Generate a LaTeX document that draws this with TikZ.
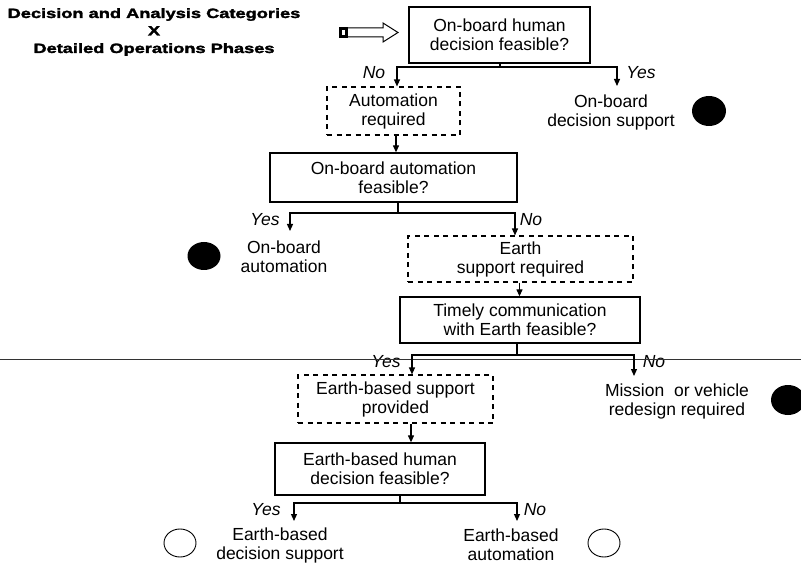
\documentclass[tikz,border=0pt]{standalone}
\usepackage{fontspec}
\setmainfont{Liberation Sans}
\newfontfamily\titlefont[FakeStretch=1.35,FakeBold=2.2]{Liberation Sans Bold}
\usetikzlibrary{arrows.meta}
\begin{document}
\begin{tikzpicture}[x=1pt,y=-1pt,
  txt/.style={font=\fontsize{17.5}{19}\selectfont, align=center, inner sep=0pt},
  lab/.style={font=\fontsize{17.5}{19}\selectfont\itshape, inner sep=0pt},
  qbox/.style={txt, draw, line width=1.3pt},
  dbox/.style={txt, draw, line width=1.1pt, dash pattern=on 5pt off 4.5pt},
  conn/.style={line width=1.2pt},
  arr/.style={conn, -{Triangle[length=7pt,width=6pt]}},
  dot/.style={fill=black},
  ring/.style={draw, line width=0.9pt}
]
\useasboundingbox (0,0) rectangle (801,564);
\fill[white] (0,0) rectangle (801,564);

% title
\node[font=\titlefont\fontsize{13.5}{17.5}\selectfont, align=center, inner sep=0pt] (title) at (154,32)
  {Decision and Analysis Categories\\X\\Detailed Operations Phases};

% hollow arrow
\draw[line width=1pt, fill=white] (347,28) -- (383,28) -- (383,23) -- (398,32.5) -- (383,42) -- (383,37) -- (347,37) -- cycle;
\draw[line width=3pt, fill=white] (340,28.5) rectangle (346.5,36.5);

% boxes
\node[qbox, minimum width=181pt, minimum height=56pt] (q1) at (499.5,35) {On-board human\\decision feasible?};
\node[dbox, minimum width=133pt, minimum height=48pt] (qa) at (393.5,111) {Automation\\required};
\node[qbox, minimum width=247pt, minimum height=49pt] (q2) at (393.5,177.5) {On-board automation\\feasible?};
\node[dbox, minimum width=225pt, minimum height=46pt] (qb) at (520.5,259) {Earth\\support required};
\node[qbox, minimum width=240pt, minimum height=46pt] (q3) at (520,320) {Timely communication\\with Earth feasible?};
\node[dbox, minimum width=195pt, minimum height=48pt] (qc) at (395.5,399) {Earth-based support\\provided};
\node[qbox, minimum width=210pt, minimum height=52pt] (q4) at (380,469) {Earth-based human\\decision feasible?};

% outcome texts
\node[txt] (t1) at (611,112) {On-board\\decision support};
\node[txt] (t2) at (284,257) {On-board\\automation};
\node[txt] (t3) at (677,401) {Mission\ \ or vehicle\\redesign required};
\node[txt] (t4) at (280,545) {Earth-based\\decision support};
\node[txt] (t5) at (511,545) {Earth-based\\automation};

% markers
\fill[dot] (709,111) ellipse [x radius=17pt, y radius=15pt];
\fill[dot] (204,256) ellipse [x radius=16.5pt, y radius=14pt];
\fill[dot] (788,400) ellipse [x radius=17pt, y radius=15pt];
\draw[ring] (180,543) ellipse [x radius=16pt, y radius=14pt];
\draw[ring] (604,543) ellipse [x radius=16pt, y radius=14pt];

% labels
\node[lab] (l1) at (374,73) {No};
\node[lab] (l2) at (641,73) {Yes};
\node[lab] (l3) at (265,220) {Yes};
\node[lab] (l4) at (531,220) {No};
\node[lab] (l5) at (386,362) {Yes};
\node[lab] (l6) at (654,362) {No};
\node[lab] (l7) at (266,510) {Yes};
\node[lab] (l8) at (535,510) {No};

% separator line
\coordinate (sl) at (0,359);
\coordinate (sr) at (801,359);
\draw[line width=0.9pt, black!80] (sl) -- (sr);

% connectors
\coordinate (j1) at (500,67);
\coordinate (e1) at (617,86);
\draw[conn] (q1.south -| j1) -- (j1);
\draw[arr] (j1) -| (qa.north -| 397,0);
\draw[arr] (j1) -| (e1);

\draw[arr] ([xshift=2.5pt]qa.south) -- ([xshift=2.5pt]qa.south |- q2.north);

\coordinate (j2) at (398,213);
\coordinate (e2) at (290,231);
\draw[conn] (q2.south -| j2) -- (j2);
\draw[arr] (j2) -| (e2);
\draw[arr] (j2) -| (qb.north -| 515,0);

\draw[arr] ([xshift=-1pt]qb.south) -- ([xshift=-1pt]qb.south |- q3.north);

\coordinate (j3) at (517,355);
\coordinate (e3) at (634,376);
\draw[conn] (q3.south -| j3) -- (j3);
\draw[arr] (j3) -| (qc.north -| 412,0);
\draw[arr] (j3) -| (e3);

\draw[arr] ([xshift=15.5pt]qc.south) -- ([xshift=15.5pt]qc.south |- q4.north);

\coordinate (j4) at (400,503);
\coordinate (e4) at (294,521);
\coordinate (e5) at (517,521);
\draw[conn] (q4.south -| j4) -- (j4);
\draw[arr] (j4) -| (e4);
\draw[arr] (j4) -| (e5);
\end{tikzpicture}
\end{document}
